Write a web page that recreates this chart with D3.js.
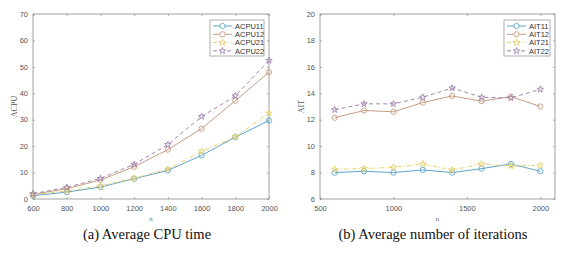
<!DOCTYPE html>
<html><head><meta charset="utf-8">
<script src="https://cdn.jsdelivr.net/npm/d3@7"></script>
<style>body{margin:0;background:#fff}svg{display:block}</style>
</head><body>
<svg id="c" width="578" height="256"></svg>
<script>
const nValues = [600, 800, 1000, 1200, 1400, 1600, 1800, 2000];
const acpuNames = ["ACPU11", "ACPU12", "ACPU21", "ACPU22"];
const acpu11 = [1.25, 2.6, 4.5, 7.7, 10.8, 16.5, 23.4, 29.7];
const acpu12 = [1.75, 3.9, 7.2, 12.2, 18.7, 26.6, 37.2, 48.0];
const acpu21 = [1.6, 3.1, 4.9, 7.9, 11.3, 18.0, 23.5, 32.5];
const acpu22 = [2.0, 4.4, 7.8, 13.1, 20.6, 31.2, 39.0, 52.4];
const aitNames = ["AIT11", "AIT12", "AIT21", "AIT22"];
const ait11 = [8.0, 8.1, 8.0, 8.2, 8.0, 8.3, 8.65, 8.1];
const ait12 = [12.15, 12.7, 12.6, 13.3, 13.8, 13.4, 13.75, 13.0];
const ait21 = [8.25, 8.3, 8.4, 8.65, 8.2, 8.65, 8.5, 8.55];
const ait22 = [12.75, 13.2, 13.2, 13.7, 14.4, 13.7, 13.65, 14.3];
const xTicksA = [600, 800, 1000, 1200, 1400, 1600, 1800, 2000];
const yTicksA = [0, 10, 20, 30, 40, 50, 60, 70];
const xTicksB = [500, 1000, 1500, 2000];
const yTicksB = [6, 8, 10, 12, 14, 16, 18, 20];
const captions = ["(a) Average CPU time", "(b) Average number of iterations"];

const colors = ["#5ea6c8", "#c79c82", "#e6d06a", "#a286b3"];
const dashes = [null, null, "4,2,1,2", "4,3"];
const markers = ["circle", "circle", "star", "star"];

const svg = d3.select("#c");

function panel(opts) {
  const g = svg.append("g");
  const x = d3.scaleLinear().domain(opts.xDomain).range([opts.left, opts.right]);
  const y = d3.scaleLinear().domain(opts.yDomain).range([opts.bottom, opts.top]);
  const axisCol = "#8a8a8a", txtCol = "#555";
  g.append("rect").attr("x", opts.left).attr("y", opts.top)
    .attr("width", opts.right - opts.left).attr("height", opts.bottom - opts.top)
    .attr("fill", "none").attr("stroke", axisCol).attr("stroke-width", 0.8);
  const ax = g.append("g").attr("transform", `translate(0,${opts.bottom})`)
    .call(d3.axisBottom(x).tickValues(opts.xTicks).tickSize(-2).tickPadding(6).tickFormat(d3.format("d")));
  const axT = g.append("g").attr("transform", `translate(0,${opts.top})`)
    .call(d3.axisTop(x).tickValues(opts.xTicks).tickSize(-2).tickFormat(""));
  const ay = g.append("g").attr("transform", `translate(${opts.left},0)`)
    .call(d3.axisLeft(y).tickValues(opts.yTicks).tickSize(-2).tickPadding(5).tickFormat(d3.format("d")));
  const ayR = g.append("g").attr("transform", `translate(${opts.right},0)`)
    .call(d3.axisRight(y).tickValues(opts.yTicks).tickSize(-2).tickFormat(""));
  [ax, axT, ay, ayR].forEach(a => {
    a.select(".domain").remove();
    a.selectAll(".tick line").attr("stroke", axisCol).attr("stroke-width", 0.7);
    a.selectAll(".tick text").attr("fill", txtCol).style("font-family", "Liberation Sans, Arial, sans-serif").style("font-size", "7.5px");
  });
  ax.selectAll(".tick text").attr("dy", "0.75em");
  ay.selectAll(".tick text").attr("dy", "0.3em");
  g.append("text").attr("x", (opts.left + opts.right) / 2).attr("y", opts.bottom + 22)
    .attr("text-anchor", "middle").attr("fill", txtCol)
    .style("font-family", "Liberation Sans, Arial, sans-serif").style("font-size", "6px").text("n");
  g.append("text").attr("transform", `translate(${opts.left - 16},${(opts.top + opts.bottom) / 2}) rotate(-90)`)
    .attr("text-anchor", "middle").attr("fill", txtCol)
    .style("font-family", "Liberation Serif, Times New Roman, serif").style("font-size", "8px").text(opts.ylabel);
  const line = d3.line().x((d, i) => x(nValues[i])).y(d => y(d));
  const star = d3.symbol().type(d3.symbolStar).size(13);
  const circ = d3.symbol().type(d3.symbolCircle).size(22);
  opts.series.forEach((vals, k) => {
    g.append("path").datum(vals).attr("d", line).attr("fill", "none")
      .attr("stroke", colors[k]).attr("stroke-width", 1)
      .attr("stroke-dasharray", dashes[k]);
    g.selectAll(null).data(vals).enter().append("path")
      .attr("transform", (d, i) => `translate(${x(nValues[i])},${y(d)})`)
      .attr("d", markers[k] === "circle" ? circ() : star())
      .attr("fill", "none").attr("stroke", colors[k]).attr("stroke-width", 0.9);
  });
  const lg = g.append("g");
  const lx0 = opts.legend[0], ly0 = opts.legend[1], lw = opts.legend[2], lh = 36;
  lg.append("rect").attr("x", lx0).attr("y", ly0).attr("width", lw).attr("height", lh)
    .attr("fill", "#fff").attr("stroke", axisCol).attr("stroke-width", 0.7);
  opts.names.forEach((nm, k) => {
    const yy = ly0 + 6 + k * 8.3;
    lg.append("line").attr("x1", lx0 + 3).attr("x2", lx0 + 22).attr("y1", yy).attr("y2", yy)
      .attr("stroke", colors[k]).attr("stroke-width", 1).attr("stroke-dasharray", dashes[k]);
    lg.append("path").attr("transform", `translate(${lx0 + 12.5},${yy})`)
      .attr("d", markers[k] === "circle" ? circ() : star())
      .attr("fill", "#fff").attr("stroke", colors[k]).attr("stroke-width", 0.9);
    lg.append("text").attr("x", lx0 + 25).attr("y", yy).attr("dy", "0.35em")
      .attr("fill", "#333").style("font-family", "Liberation Sans, Arial, sans-serif")
      .style("font-size", "7.5px").text(nm);
  });
  g.append("text").attr("x", opts.capX).attr("y", 239).attr("text-anchor", "middle")
    .attr("fill", "#111").style("font-family", "Liberation Serif, Times New Roman, serif")
    .style("font-size", "14.5px").text(opts.caption);
}

panel({left: 33, right: 269, top: 14, bottom: 199, xDomain: [600, 2000], yDomain: [0, 70],
  xTicks: xTicksA, yTicks: yTicksA, ylabel: "ACPU", names: acpuNames,
  series: [acpu11, acpu12, acpu21, acpu22], legend: [210, 20, 54], caption: captions[0], capX: 147});
panel({left: 320, right: 555, top: 14, bottom: 199, xDomain: [500, 2100], yDomain: [6, 20],
  xTicks: xTicksB, yTicks: yTicksB, ylabel: "AIT", names: aitNames,
  series: [ait11, ait12, ait21, ait22], legend: [504, 20, 46], caption: captions[1], capX: 433});
</script>
</body></html>
